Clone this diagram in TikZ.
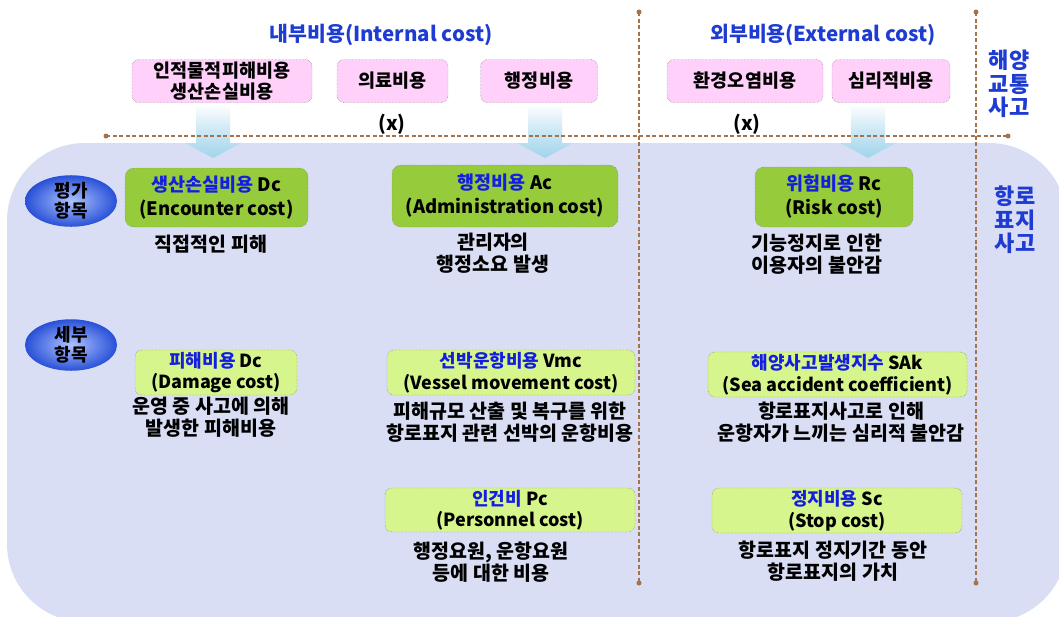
\documentclass[tikz,border=0pt]{standalone}
\usepackage{fontspec}
\setmainfont{Noto Sans CJK KR}
\usetikzlibrary{shapes.geometric}
\definecolor{bgc}{RGB}{218,222,245}
\definecolor{pinkc}{RGB}{255,208,250}
\definecolor{greenc}{RGB}{150,204,60}
\definecolor{lgreenc}{RGB}{214,245,140}
\definecolor{kblue}{RGB}{20,30,225}
\definecolor{hblue}{RGB}{30,60,210}
\definecolor{linec}{RGB}{165,115,75}
\definecolor{arrc}{RGB}{160,212,235}
\definecolor{ellout}{RGB}{40,80,215}
\definecolor{ellin}{RGB}{175,195,255}
\tikzset{
  pinkbox/.style={draw=black!60, densely dotted, fill=pinkc, rounded corners=7pt, align=center,
    inner sep=0pt, font=\fontsize{18.5}{20.5}\selectfont\bfseries},
  gbox/.style={draw=black!60, densely dotted, fill=greenc, rounded corners=9pt, align=center,
    inner sep=0pt, font=\fontsize{18.5}{24}\selectfont\bfseries},
  lgbox/.style={draw=black!60, densely dotted, fill=lgreenc, rounded corners=7pt, align=center,
    inner sep=0pt, font=\fontsize{18}{21.5}\selectfont\bfseries},
  desc/.style={align=center, inner sep=0pt, font=\fontsize{19.5}{22.5}\selectfont\bfseries},
  heading/.style={text=hblue, inner sep=0pt, font=\fontsize{20.5}{22}\selectfont\bfseries},
  sidelabel/.style={text=hblue, align=center, inner sep=0pt, font=\fontsize{22}{23.5}\selectfont\bfseries},
  itemell/.style={ellipse, inner color=ellin, outer color=ellout, minimum width=92pt, minimum height=44pt,
    align=center, inner sep=0pt, font=\fontsize{18}{19.5}\selectfont\bfseries},
  dline/.style={draw=linec, line width=1.2pt, dash pattern=on 4pt off 2.5pt},
  enddot/.style={fill=linec, circle, inner sep=0pt, minimum size=5pt},
}
\begin{document}
\begin{tikzpicture}[x=1pt,y=-1pt]
\useasboundingbox (0,0) rectangle (1059,616);
\fill[white] (0,0) rectangle (1059,616);
% background panel
\fill[bgc, rounded corners=78pt] (7,143) rectangle (1067,622);

% down arrows
\foreach \ax in {213,545,868}{
  \shade[top color=white, bottom color=arrc, middle color=arrc!55]
    (\ax-17,104) -- (\ax+17,104) -- (\ax+17,143) -- (\ax+28,143) -- (\ax,158)
    -- (\ax-28,143) -- (\ax-17,143) -- cycle;
}

% dashed axes
\coordinate (hL) at (106,136);
\coordinate (hR) at (1008,136);
\coordinate (v1T) at (639,12);
\coordinate (v1B) at (639,583);
\coordinate (v2T) at (976,12);
\coordinate (v2B) at (976,583);
\draw[dline] (hL) -- (hR);
\draw[dline] (v1T) -- (v1B);
\draw[dline] (v2T) -- (v2B);
\foreach \c in {hL,hR,v1T,v1B,v2T,v2B}{ \node[enddot] at (\c) {}; }

% headings
\node[heading] (hint) at (381,35) {내부비용(Internal cost)};
\node[heading] (hext) at (823,35) {외부비용(External cost)};

% pink boxes
\node[pinkbox, minimum width=180pt, minimum height=43pt] (p1) at (222,81) {인적물적피해비용\\생산손실비용};
\node[pinkbox, minimum width=111pt, minimum height=43pt] (p2) at (392.5,81) {의료비용};
\node[pinkbox, minimum width=117pt, minimum height=43pt] (p3) at (539,81) {행정비용};
\node[pinkbox, minimum width=156pt, minimum height=43pt] (p4) at (745,81) {환경오염비용};
\node[pinkbox, minimum width=118pt, minimum height=43pt] (p5) at (891,81) {심리적비용};

\node[desc] (x1) at (392,124) {(x)};
\node[desc] (x2) at (747,124) {(x)};

% side labels
\node[sidelabel] (s1) at (1009,84) {해양\\교통\\사고};
\node[sidelabel] (s2) at (1015,220) {항로\\표지\\사고};

% ellipses
\node[itemell] (e1) at (71,201) {평가\\항목};
\node[itemell] (e2) at (71,345) {세부\\항목};

% evaluation items
\node[gbox, minimum width=183pt, minimum height=59pt] (g1) at (216.5,197.5)
  {\textcolor{kblue}{생산손실비용} Dc\\(Encounter cost)};
\node[gbox, minimum width=226pt, minimum height=62pt] (g2) at (505,196)
  {\textcolor{kblue}{행정비용} Ac\\(Administration cost)};
\node[gbox, minimum width=158pt, minimum height=60pt] (g3) at (834,197)
  {\textcolor{kblue}{위험비용} Rc\\(Risk cost)};

\node[desc] (d1) at (211,244) {직접적인 피해};
\node[desc] (d2) at (493,253) {관리자의\\행정소요 발생};
\node[desc] (d3) at (817,254) {기능정지로 인한\\이용자의 불안감};

% detail items
\node[lgbox, minimum width=162pt, minimum height=45pt] (l1) at (216,372.5)
  {\textcolor{kblue}{피해비용} Dc\\(Damage cost)};
\node[lgbox, minimum width=248pt, minimum height=45pt] (l2) at (511,372.5)
  {\textcolor{kblue}{선박운항비용} Vmc\\(Vessel movement cost)};
\node[lgbox, minimum width=259pt, minimum height=45pt] (l3) at (837.5,374.5)
  {\textcolor{kblue}{해양사고발생지수} SAk\\(Sea accident coefficient)};
\node[lgbox, minimum width=250pt, minimum height=44pt] (l4) at (510,510)
  {\textcolor{kblue}{인건비} Pc\\(Personnel cost)};
\node[lgbox, minimum width=250pt, minimum height=45pt] (l5) at (837,510.5)
  {\textcolor{kblue}{정지비용} Sc\\(Stop cost)};

\node[desc] (d4) at (211,417) {운영 중 사고에 의해\\발생한 피해비용};
\node[desc] (d5) at (510,422) {피해규모 산출 및 복구를 위한\\항로표지 관련 선박의 운항비용};
\node[desc] (d6) at (841,422) {항로표지사고로 인해\\운항자가 느끼는 심리적 불안감};
\node[desc] (d7) at (491,562) {행정요원, 운항요원\\등에 대한 비용};
\node[desc] (d8) at (833,561) {항로표지 정지기간 동안\\항로표지의 가치};
\end{tikzpicture}
\end{document}
